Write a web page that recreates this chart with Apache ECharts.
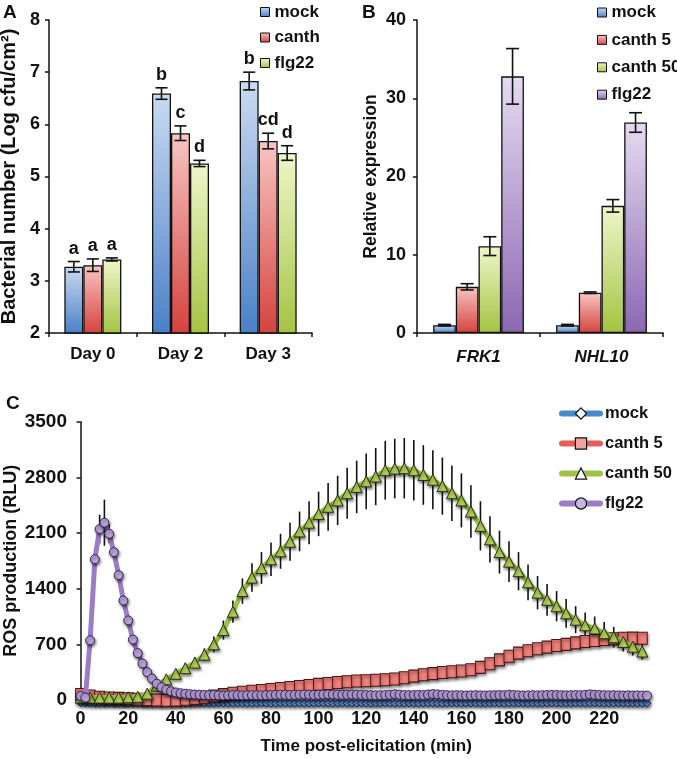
<!DOCTYPE html>
<html><head><meta charset="utf-8">
<script src="https://cdn.jsdelivr.net/npm/echarts@6/dist/echarts.min.js"></script>
<style>html,body{margin:0;padding:0;background:#fff}#c{width:677px;height:759px}</style>
</head><body><div id="c"></div>
<script>
// ---------- Panel A data ----------
const daysA = ['Day 0', 'Day 2', 'Day 3'];
const yTicksA = [2, 3, 4, 5, 6, 7, 8];
const mockA = [3.27, 6.59, 6.83];
const mockErrA = [0.10, 0.11, 0.17];
const canthA = [3.30, 5.83, 5.68];
const canthErrA = [0.12, 0.14, 0.15];
const flg22A = [3.41, 5.25, 5.45];
const flg22ErrA = [0.03, 0.06, 0.14];
const lettersMockA = ['a', 'b', 'b'];
const lettersCanthA = ['a', 'c', 'cd'];
const lettersFlg22A = ['a', 'd', 'd'];

// ---------- Panel B data ----------
const genesB = ['FRK1', 'NHL10'];
const yTicksB = [0, 10, 20, 30, 40];
const mockB = [1.0, 1.0];
const mockErrB = [0.1, 0.1];
const canth5B = [5.9, 5.15];
const canth5ErrB = [0.4, 0.1];
const canth50B = [11.1, 16.25];
const canth50ErrB = [1.2, 0.8];
const flg22B = [32.8, 26.9];
const flg22ErrB = [3.55, 1.25];

// ---------- Panel C data ----------
const xTicksC = [0, 20, 40, 60, 80, 100, 120, 140, 160, 180, 200, 220];
const yTicksC = [0, 700, 1400, 2100, 2800, 3500];
const timesC4 = [0, 4, 8, 12, 16, 20, 24, 28, 32, 36,
  40, 44, 48, 52, 56, 60, 64, 68, 72, 76,
  80, 84, 88, 92, 96, 100, 104, 108, 112, 116,
  120, 124, 128, 132, 136, 140, 144, 148, 152, 156,
  160, 164, 168, 172, 176, 180, 184, 188, 192, 196,
  200, 204, 208, 212, 216, 220, 224, 228, 232, 236];
const timesC2 = [0, 2, 4, 6, 8, 10, 12, 14, 16, 18,
  20, 22, 24, 26, 28, 30, 32, 34, 36, 38,
  40, 42, 44, 46, 48, 50, 52, 54, 56, 58,
  60, 62, 64, 66, 68, 70, 72, 74, 76, 78,
  80, 82, 84, 86, 88, 90, 92, 94, 96, 98,
  100, 102, 104, 106, 108, 110, 112, 114, 116, 118,
  120, 122, 124, 126, 128, 130, 132, 134, 136, 138,
  140, 142, 144, 146, 148, 150, 152, 154, 156, 158,
  160, 162, 164, 166, 168, 170, 172, 174, 176, 178,
  180, 182, 184, 186, 188, 190, 192, 194, 196, 198,
  200, 202, 204, 206, 208, 210, 212, 214, 216, 218,
  220, 222, 224, 226, 228, 230, 232, 234, 236, 238];
const mockC = [-30, -34, -38, -40, -41, -40, -39, -40, -42, -41,
  -40, -39, -40, -41, -42, -40, -39, -40, -41, -40,
  -39, -40, -42, -41, -40, -39, -40, -41, -42, -40,
  -40, -41, -40, -39, -40, -42, -41, -40, -39, -40,
  -41, -42, -40, -39, -40, -41, -40, -42, -41, -40,
  -39, -40, -41, -42, -40, -39, -40, -41, -40, -39,
  -40, -42, -41, -40, -39, -40, -41, -42, -40, -39,
  -40, -41, -40, -39, -40, -42, -41, -40, -39, -40,
  -41, -40, -39, -40, -42, -41, -40, -39, -40, -41,
  -42, -40, -39, -40, -41, -40, -42, -41, -40, -39,
  -40, -41, -42, -40, -39, -40, -41, -40, -39, -40,
  -42, -41, -40, -39, -40, -41, -40, -42, -41, -40];
const canth5C = [70, 50, 35, 25, 20, 15, 10, 5, 0, -5,
  0, 10, 20, 35, 50, 68, 85, 98, 110, 120,
  132, 145, 158, 170, 183, 196, 208, 220, 230, 238,
  243, 248, 255, 265, 280, 300, 318, 332, 345, 355,
  365, 380, 410, 455, 505, 550, 590, 620, 645, 665,
  685, 700, 718, 735, 748, 760, 770, 776, 778, 776];
const canth50C = [30, 30, 30, 30, 30, 35, 40, 80, 180, 260,
  330, 400, 470, 570, 700, 880, 1110, 1370, 1540, 1660,
  1770, 1870, 1990, 2120, 2230, 2340, 2430, 2510, 2600, 2680,
  2750, 2810, 2890, 2910, 2915, 2890, 2830, 2770, 2690, 2600,
  2510, 2370, 2190, 2020, 1860, 1740, 1620, 1480, 1350, 1260,
  1180, 1090, 1010, 940, 900, 840, 790, 730, 670, 610];
const canth50ErrC = [10, 10, 10, 10, 10, 10, 12, 20, 30, 40,
  50, 60, 70, 80, 100, 120, 140, 160, 180, 200,
  210, 220, 240, 250, 270, 280, 300, 310, 320, 330,
  350, 360, 370, 375, 380, 380, 375, 370, 360, 350,
  340, 330, 310, 290, 270, 255, 240, 225, 210, 200,
  190, 180, 170, 160, 150, 140, 130, 120, 110, 100];
const flg22C = [50, 30, 750, 1770, 2150, 2230, 2090, 1860, 1570, 1250,
  1000, 760, 590, 460, 350, 270, 205, 160, 130, 110,
  95, 85, 78, 72, 68, 65, 62, 60, 62, 58,
  56, 58, 62, 60, 58, 60, 62, 60, 58, 60,
  62, 64, 66, 64, 62, 64, 66, 68, 66, 64,
  66, 68, 70, 68, 66, 64, 66, 68, 66, 64,
  62, 60, 58, 60, 62, 66, 72, 66, 62, 60,
  62, 64, 62, 68, 74, 70, 64, 60, 58, 60,
  58, 56, 58, 60, 58, 56, 58, 60, 62, 60,
  66, 62, 58, 56, 58, 60, 58, 60, 62, 64,
  62, 60, 58, 60, 62, 60, 64, 70, 66, 62,
  60, 58, 60, 58, 56, 58, 56, 58, 56, 55];
// error bars shown for the first 20 flg22 time points only
const flg22ErrC = [10, 10, 60, 90, 180, 290, 120, 60, 40, 30,
  25, 20, 18, 15, 12, 10, 10, 8, 8, 8];

// ---------- styling ----------
const FONT = '"Liberation Sans", Arial, Helvetica, sans-serif';
const INK = '#111';
function grad(top, bot) {
  return new echarts.graphic.LinearGradient(0, 0, 0, 1, [{offset: 0, color: top}, {offset: 1, color: bot}]);
}
const COL = {
  blue: ['#cadbf1', '#4a80c8'],
  red: ['#f8c6c3', '#d5423d'],
  green: ['#eff6ca', '#a5c342'],
  purple: ['#e6dbf0', '#8b67b3']
};
const BAR_A = 19, BAR_B = 22.7;

function bar(name, xi, yi, data, col, w, start) {
  return {
    type: 'bar', name, xAxisIndex: xi, yAxisIndex: yi, data, barWidth: w, barGap: '0%',
    startValue: start, silent: true, animation: false,
    itemStyle: {color: grad(col[0], col[1]), borderColor: INK, borderWidth: 1.3}
  };
}
function errBars(xi, yi, vals, errs, idx, n, barW, capW, letters) {
  return {
    type: 'custom', xAxisIndex: xi, yAxisIndex: yi, z: 5, silent: true, animation: false,
    data: vals.map((v, i) => [i, v, errs[i]]),
    renderItem(params, api) {
      const i = api.value(0), v = api.value(1), e = api.value(2);
      const c = api.coord([i, v]);
      const x = c[0] + (idx - (n - 1) / 2) * barW;
      const yt = api.coord([i, v + e])[1], yb = api.coord([i, v - e])[1];
      const st = {stroke: INK, lineWidth: 1.6};
      const ch = [
        {type: 'line', shape: {x1: x, y1: yt, x2: x, y2: yb}, style: st},
        {type: 'line', shape: {x1: x - capW / 2, y1: yt, x2: x + capW / 2, y2: yt}, style: st},
        {type: 'line', shape: {x1: x - capW / 2, y1: yb, x2: x + capW / 2, y2: yb}, style: st}
      ];
      if (letters) {
        ch.push({type: 'text', style: {text: letters[params.dataIndex], x: x, y: yt - 4,
          align: 'center', verticalAlign: 'bottom', font: 'bold 18px ' + FONT, fill: INK}});
      }
      return {type: 'group', children: ch};
    }
  };
}
function errC(times, vals, errs) {
  return {
    type: 'custom', xAxisIndex: 2, yAxisIndex: 2, z: 1, silent: true, clip: false, animation: false,
    data: errs.map((e, i) => [times[i], vals[i], e]),
    renderItem(params, api) {
      const t = api.value(0), v = api.value(1), e = api.value(2);
      const a = api.coord([t, v + e]), b = api.coord([t, v - e]);
      return {type: 'line', shape: {x1: a[0], y1: a[1], x2: b[0], y2: b[1]}, style: {stroke: INK, lineWidth: 1.6}};
    }
  };
}
function lineC(name, times, vals, symbol, size, lineColor, fill, border, z) {
  return {
    type: 'line', name, xAxisIndex: 2, yAxisIndex: 2, z,
    data: times.map((t, i) => [t, vals[i]]),
    symbol, symbolSize: size, showSymbol: true, showAllSymbol: true, clip: false, animation: false, silent: true,
    lineStyle: {color: lineColor, width: 5},
    itemStyle: {color: fill, borderColor: border, borderWidth: 1,
      shadowColor: 'rgba(0,0,0,0.5)', shadowBlur: 3, shadowOffsetX: 1, shadowOffsetY: 2},
    emphasis: {disabled: true}
  };
}
const lblBold = (size, extra) => Object.assign({fontSize: size, fontWeight: 'bold', color: INK, fontFamily: FONT}, extra || {});
const axLine = {show: true, lineStyle: {color: INK, width: 1.5}};
const axTick = {show: true, length: 4, lineStyle: {color: INK, width: 1.5}};
const fmt = n => n.split('|')[1];
const plain = v => String(v);

const option = {
  backgroundColor: '#fff',
  animation: false,
  textStyle: {fontFamily: FONT},
  grid: [
    {left: 49, top: 20, width: 263, height: 313, outerBoundsMode: 'none'},
    {left: 417, top: 20, width: 246, height: 313, outerBoundsMode: 'none'},
    {left: 80.6, top: 421.7, width: 571.2, height: 278.3, outerBoundsMode: 'none'}
  ],
  xAxis: [
    {gridIndex: 0, type: 'category', data: daysA, axisLine: axLine, axisTick: axTick,
      axisLabel: lblBold(17, {margin: 13}), splitLine: {show: false}},
    {gridIndex: 1, type: 'category', data: genesB, axisLine: axLine, axisTick: axTick,
      axisLabel: lblBold(17, {margin: 16, fontStyle: 'italic'}), splitLine: {show: false}},
    {gridIndex: 2, type: 'value', min: xTicksC[0], max: 240, interval: 20,
      axisLine: {show: false}, axisTick: {show: false}, splitLine: {show: false},
      axisLabel: lblBold(18, {margin: 10, showMaxLabel: false, formatter: plain}),
      name: 'Time post-elicitation (min)', nameLocation: 'middle', nameGap: 38, nameMoveOverlap: false,
      nameTextStyle: lblBold(17)}
  ],
  yAxis: [
    {gridIndex: 0, type: 'value', min: yTicksA[0], max: yTicksA[yTicksA.length - 1], interval: 1,
      axisLine: axLine, axisTick: axTick, splitLine: {show: false},
      axisLabel: lblBold(18, {margin: 9, formatter: plain}),
      name: 'Bacterial number (Log cfu/cm²)', nameLocation: 'middle', nameGap: 30, nameMoveOverlap: false,
      nameTextStyle: lblBold(20)},
    {gridIndex: 1, type: 'value', min: yTicksB[0], max: yTicksB[yTicksB.length - 1], interval: 10,
      axisLine: axLine, axisTick: axTick, splitLine: {show: false},
      axisLabel: lblBold(18, {margin: 11, formatter: plain}),
      name: 'Relative expression', nameLocation: 'middle', nameGap: 37, nameMoveOverlap: false,
      nameTextStyle: lblBold(17.5)},
    {gridIndex: 2, type: 'value', min: yTicksC[0], max: yTicksC[yTicksC.length - 1], interval: 700, offset: 3.6,
      axisLine: axLine, axisTick: axTick, splitLine: {show: false},
      axisLabel: lblBold(19, {margin: 10, formatter: plain}),
      name: 'ROS production (RLU)', nameLocation: 'middle', nameGap: 57, nameMoveOverlap: false,
      nameTextStyle: lblBold(18)}
  ],
  legend: [
    {data: ['A|mock', 'A|canth', 'A|flg22'], formatter: fmt, orient: 'vertical', left: 260, top: 3.5,
      itemWidth: 9, itemHeight: 9, itemGap: 8.5, icon: 'rect', selectedMode: false,
      itemStyle: {borderColor: INK, borderWidth: 1}, textStyle: lblBold(17), padding: 0},
    {data: ['B|mock', 'B|canth 5', 'B|canth 50', 'B|flg22'], formatter: fmt, orient: 'vertical', left: 597, top: 4,
      itemWidth: 9, itemHeight: 9, itemGap: 10.4, icon: 'rect', selectedMode: false,
      itemStyle: {borderColor: INK, borderWidth: 1}, textStyle: lblBold(17), padding: 0},
    {data: [
        {name: 'C|mock', itemStyle: {color: '#ffffff', borderColor: INK, borderWidth: 1.2, shadowBlur: 0}},
        {name: 'C|canth 5', itemStyle: {color: '#f2a3a0', borderColor: INK, borderWidth: 1.2, shadowBlur: 0}},
        {name: 'C|canth 50', itemStyle: {color: '#ffffff', borderColor: INK, borderWidth: 1.2, shadowBlur: 0}},
        {name: 'C|flg22', itemStyle: {color: '#c8b6e2', borderColor: INK, borderWidth: 1.2, shadowBlur: 0}}],
      formatter: fmt, orient: 'vertical', left: 559, top: 405,
      itemWidth: 38, itemHeight: 14, itemGap: 13, selectedMode: false,
      lineStyle: {width: 6, cap: 'round'}, textStyle: lblBold(16.5), padding: 0}
  ],
  graphic: [
    {type: 'text', left: 3, top: 3, style: {text: 'A', font: 'bold 19px ' + FONT, fill: INK}},
    {type: 'text', left: 362, top: 3, style: {text: 'B', font: 'bold 19px ' + FONT, fill: INK}},
    {type: 'text', left: 6, top: 394, style: {text: 'C', font: 'bold 19px ' + FONT, fill: INK}}
  ],
  series: [
    bar('A|mock', 0, 0, mockA, COL.blue, BAR_A, 2),
    bar('A|canth', 0, 0, canthA, COL.red, BAR_A, 2),
    bar('A|flg22', 0, 0, flg22A, COL.green, BAR_A, 2),
    errBars(0, 0, mockA, mockErrA, 0, 3, BAR_A, 12, lettersMockA),
    errBars(0, 0, canthA, canthErrA, 1, 3, BAR_A, 12, lettersCanthA),
    errBars(0, 0, flg22A, flg22ErrA, 2, 3, BAR_A, 12, lettersFlg22A),
    bar('B|mock', 1, 1, mockB, COL.blue, BAR_B, 0),
    bar('B|canth 5', 1, 1, canth5B, COL.red, BAR_B, 0),
    bar('B|canth 50', 1, 1, canth50B, COL.green, BAR_B, 0),
    bar('B|flg22', 1, 1, flg22B, COL.purple, BAR_B, 0),
    errBars(1, 1, mockB, mockErrB, 0, 4, BAR_B, 13),
    errBars(1, 1, canth5B, canth5ErrB, 1, 4, BAR_B, 13),
    errBars(1, 1, canth50B, canth50ErrB, 2, 4, BAR_B, 13),
    errBars(1, 1, flg22B, flg22ErrB, 3, 4, BAR_B, 13),
    errC(timesC4, canth50C, canth50ErrC),
    errC(timesC2, flg22C, flg22ErrC),
    lineC('C|mock', timesC2, mockC, 'diamond', 8, '#4a88cc', '#5b8ccc', '#1d2f55', 2),
    lineC('C|canth 5', timesC4, canth5C, 'rect', [10, 12], '#e35d5a', '#ef7f7a', '#4a1512', 3),
    lineC('C|canth 50', timesC4, canth50C, 'triangle', 11, '#9fc24d', '#b6d45c', '#28330b', 4),
    lineC('C|flg22', timesC2, flg22C, 'circle', 9, '#9a7cc8', '#baa3dd', '#33244f', 5)
  ]
};
const chart = echarts.init(document.getElementById('c'), null, {renderer: 'canvas'});
chart.setOption(option);
</script></body></html>
